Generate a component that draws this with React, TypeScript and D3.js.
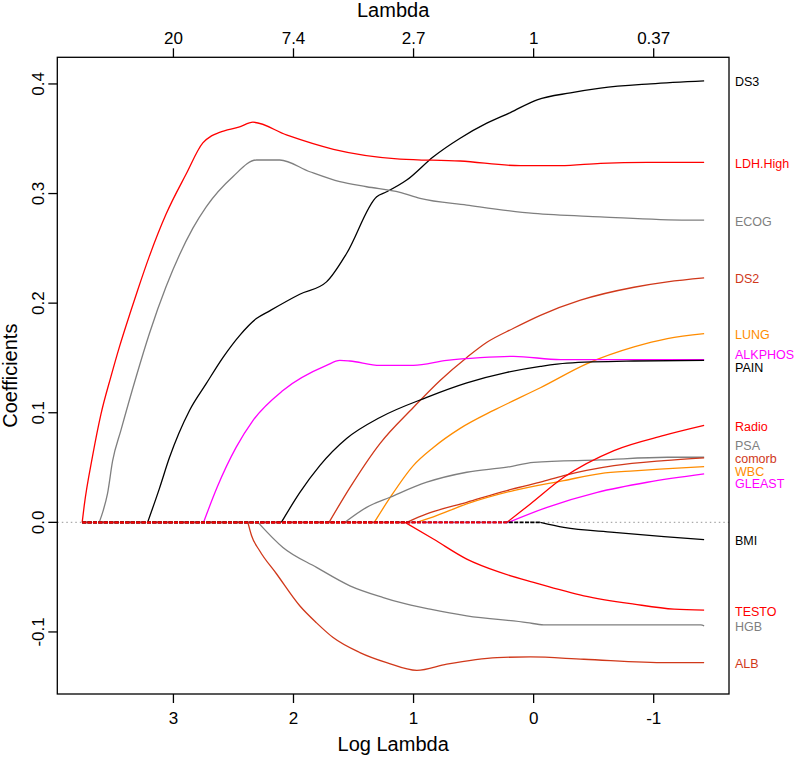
import React from "react";
import * as d3 from "d3";

// ---- data (log lambda, coefficient) ----
const logLambdaRange = [3.76, -1.42];

const DS3 = [[3.215,0],[3.117,0.0308],[3.033,0.0591],[2.866,0.1021],[2.727,0.1265],[2.588,0.1503],[2.449,0.1704],[2.309,0.1859],[2.198,0.1930],[1.948,0.2081],[1.725,0.2194],[1.558,0.2453],[1.307,0.2971],[1.224,0.3016],[1.057,0.3123],[0.835,0.3336],[0.612,0.3505],[0.39,0.3642],[0.194,0.3739],[-0.029,0.3855],[-0.307,0.3919],[-0.557,0.3962],[-0.975,0.4001],[-1.42,0.4028]];
const LDH_High = [[3.76,0],[3.743,0.0153],[3.674,0.0601],[3.604,0.0985],[3.52,0.1332],[3.451,0.1597],[3.353,0.1935],[3.298,0.2118],[3.2,0.2429],[3.061,0.2813],[2.894,0.3178],[2.755,0.3462],[2.683,0.3526],[2.616,0.3558],[2.449,0.3608],[2.338,0.3651],[2.059,0.3535],[1.667,0.3404],[1.113,0.3315],[0.612,0.3297],[0.111,0.3254],[-0.223,0.3254],[-0.557,0.3276],[-0.947,0.3285],[-1.42,0.3285]];
const ECOG = [[3.618,0],[3.585,0.0107],[3.549,0.0262],[3.507,0.0558],[3.437,0.0841],[3.311,0.1326],[3.2,0.1723],[3.061,0.2151],[2.839,0.2682],[2.727,0.2879],[2.505,0.3154],[2.309,0.3306],[2.115,0.3306],[1.864,0.3199],[1.614,0.3108],[1.391,0.3062],[1.113,0.3011],[0.946,0.2956],[0.557,0.2895],[0.0,0.2819],[-0.557,0.2788],[-1.281,0.2758],[-1.42,0.2758]];
const DS2 = [[1.704,0],[1.53,0.0317],[1.28,0.0719],[1.002,0.1048],[0.779,0.1295],[0.556,0.1505],[0.389,0.1643],[0.167,0.1771],[-0.056,0.1889],[-0.39,0.2027],[-0.836,0.2145],[-1.114,0.2194],[-1.42,0.223]];
const LUNG = [[1.327,0],[1.196,0.0225],[1.002,0.0518],[0.835,0.0683],[0.612,0.0857],[0.334,0.1021],[0.111,0.1140],[-0.056,0.1228],[-0.446,0.1448],[-0.836,0.16],[-1.114,0.1676],[-1.42,0.1722]];
const ALKPHOS = [[2.749,0],[2.636,0.032],[2.477,0.0686],[2.338,0.0929],[2.088,0.1203],[1.725,0.1432],[1.614,0.1478],[1.53,0.1472],[1.28,0.1432],[1.002,0.1432],[0.723,0.1478],[0.445,0.1503],[0.167,0.1515],[-0.223,0.1484],[-1.42,0.1484]];
const PAIN = [[2.101,0],[1.948,0.0271],[1.781,0.0518],[1.558,0.0765],[1.28,0.0957],[0.89,0.114],[0.556,0.1272],[0.222,0.1368],[-0.056,0.1423],[-0.279,0.1453],[-0.836,0.1472],[-1.42,0.1478]];
const Radio = [[0.222,0],[0.027,0.0168],[-0.251,0.0411],[-0.669,0.0655],[-1.086,0.0793],[-1.42,0.0884]];
const PSA = [[1.572,0],[1.391,0.0137],[1.196,0.0229],[0.89,0.0366],[0.557,0.0457],[0.222,0.0503],[0.0,0.0548],[-0.557,0.057],[-1.114,0.0594],[-1.42,0.0594]];
const comorb = [[1.057,0],[0.89,0.0077],[0.557,0.0183],[0.222,0.029],[-0.056,0.0366],[-0.251,0.0427],[-0.669,0.0518],[-1.086,0.0564],[-1.42,0.0589]];
const WBC = [[0.974,0],[0.835,0.005],[0.557,0.0168],[0.167,0.029],[-0.251,0.0381],[-0.557,0.0445],[-0.836,0.047],[-1.086,0.0488],[-1.42,0.0509]];
const GLEAST = [[0.209,0],[-0.112,0.0137],[-0.53,0.0274],[-0.947,0.0366],[-1.42,0.0442]];
const BMI = [[-0.056,0],[-0.251,-0.0046],[-0.669,-0.0091],[-1.086,-0.0131],[-1.42,-0.0158]];
const TESTO = [[1.071,0],[0.835,-0.0152],[0.557,-0.0335],[0.278,-0.0457],[0.0,-0.0548],[-0.418,-0.067],[-0.836,-0.0746],[-1.17,-0.0792],[-1.42,-0.0801]];
const HGB = [[2.296,0],[2.088,-0.0229],[1.808,-0.0411],[1.53,-0.0579],[1.252,-0.0686],[1.113,-0.0731],[0.862,-0.0792],[0.557,-0.0853],[0.055,-0.0914],[-0.084,-0.0935],[-1.393,-0.0935],[-1.42,-0.0944]];
const ALB = [[2.38,0],[2.349,-0.0122],[2.282,-0.0259],[2.142,-0.0469],[1.948,-0.0761],[1.808,-0.0917],[1.67,-0.1051],[1.447,-0.1188],[1.224,-0.128],[0.973,-0.1351],[0.723,-0.1294],[0.305,-0.1234],[0.027,-0.1228],[-0.418,-0.1249],[-1.114,-0.128],[-1.42,-0.128]];

const seriesNames = ["DS3","LDH.High","ECOG","DS2","LUNG","ALKPHOS","PAIN","PSA","comorb","WBC","GLEAST","TESTO","HGB","ALB","BMI","Radio"];
const seriesData = [DS3, LDH_High, ECOG, DS2, LUNG, ALKPHOS, PAIN, PSA, comorb, WBC, GLEAST, TESTO, HGB, ALB, BMI, Radio];
const RED = "#FF0000", BRICK = "#D0381A", ORANGE = "#FF8C00", MAGENTA = "#FF00FF", GRAY = "#7F7F7F", BLACK = "#000000";
const seriesColors = [BLACK, RED, GRAY, BRICK, ORANGE, MAGENTA, BLACK, GRAY, BRICK, ORANGE, MAGENTA, RED, GRAY, BRICK, BLACK, RED];

const xTicks = [3, 2, 1, 0, -1];
const xTickLabels = ["3", "2", "1", "0", "-1"];
const lambdaTickLabels = ["20", "7.4", "2.7", "1", "0.37"];
const yTicks = [-0.1, 0, 0.1, 0.2, 0.3, 0.4];
const yTickLabels = ["-0.1", "0.0", "0.1", "0.2", "0.3", "0.4"];

const FONT = "'Liberation Sans', Arial, Helvetica, sans-serif";

export default function App() {
  const W = 800, H = 758;
  const left = 57.3, right = 729, top = 57.3, bottom = 694;

  // R-style 4% extension of the data range
  const [l0, l1] = logLambdaRange;
  const xr = l0 - l1;
  const x = d3.scaleLinear().domain([l0 + 0.04 * xr, l1 - 0.04 * xr]).range([left, right]);
  const allC = seriesData.flat().map((d) => d[1]);
  const cMin = d3.min(allC) as number, cMax = d3.max(allC) as number;
  const yr = cMax - cMin;
  const y = d3.scaleLinear().domain([cMin - 0.04 * yr, cMax + 0.04 * yr]).range([bottom, top]);

  const smooth = d3.line<number[]>().x((d) => x(d[0])).y((d) => y(d[1])).curve(d3.curveMonotoneX);
  const straight = d3.line<number[]>().x((d) => x(d[0])).y((d) => y(d[1]));

  // labels with de-overlap
  const gap = 12.6;
  const items = seriesData.map((s, i) => ({ name: seriesNames[i], color: seriesColors[i], target: y(s[s.length - 1][1]) }))
    .sort((a, b) => a.target - b.target);
  let clusters = items.map((it) => ({ items: [it], center: it.target }));
  let changed = true;
  while (changed) {
    changed = false;
    for (let i = 0; i < clusters.length - 1; i++) {
      const a = clusters[i], b = clusters[i + 1];
      const aBot = a.center + ((a.items.length - 1) * gap) / 2;
      const bTop = b.center - ((b.items.length - 1) * gap) / 2;
      if (bTop - aBot < gap) {
        const its = a.items.concat(b.items);
        clusters.splice(i, 2, { items: its, center: d3.mean(its, (d) => d.target) as number });
        changed = true;
        break;
      }
    }
  }
  const labels: { name: string; color: string; ly: number }[] = [];
  clusters.forEach((c) => c.items.forEach((it, k) => labels.push({ name: it.name, color: it.color, ly: c.center + (k - (c.items.length - 1) / 2) * gap + 1.5 })));

  const tickLen = 9;

  return (
    <svg width={W} height={H} style={{ position: "absolute", left: 0, top: 0, background: "#fff" }} fontFamily={FONT}>
      <rect x={0} y={0} width={W} height={H} fill="#fff" />
      {/* zero reference line */}
      <line x1={left} x2={right} y1={y(0)} y2={y(0)} stroke="#aaa" strokeWidth={1.2} strokeDasharray="1.5,3" />
      {/* series (non-zero parts) */}
      {seriesData.map((s, i) => (
        <path key={"s" + i} d={smooth(s) || ""} fill="none" stroke={seriesColors[i]} strokeWidth={1.3} strokeLinejoin="round" />
      ))}
      {/* zero parts before each variable enters */}
      {seriesData.map((s, i) => (
        <path key={"z" + i} d={straight([[l0, 0], s[0]]) || ""} fill="none" stroke={seriesColors[i]} strokeWidth={1.8} strokeDasharray="4,1.4" />
      ))}
      {/* box */}
      <rect x={left} y={top} width={right - left} height={bottom - top} fill="none" stroke="#000" strokeWidth={1.3} />
      {/* bottom axis */}
      {xTicks.map((t, i) => (
        <g key={"bx" + i}>
          <line x1={x(t)} x2={x(t)} y1={bottom} y2={bottom + tickLen} stroke="#000" strokeWidth={1.3} />
          <text x={x(t)} y={724} fontSize={17} textAnchor="middle">{xTickLabels[i]}</text>
        </g>
      ))}
      {/* top axis */}
      {xTicks.map((t, i) => (
        <g key={"tx" + i}>
          <line x1={x(t)} x2={x(t)} y1={top} y2={top - tickLen} stroke="#000" strokeWidth={1.3} />
          <text x={x(t)} y={44} fontSize={17} textAnchor="middle">{lambdaTickLabels[i]}</text>
        </g>
      ))}
      {/* y axis */}
      {yTicks.map((t, i) => (
        <g key={"y" + i}>
          <line x1={left} x2={left - tickLen} y1={y(t)} y2={y(t)} stroke="#000" strokeWidth={1.3} />
          <text transform={`translate(44,${y(t)}) rotate(-90)`} fontSize={17} textAnchor="middle">{yTickLabels[i]}</text>
        </g>
      ))}
      {/* titles */}
      <text x={(left + right) / 2} y={17} fontSize={20} textAnchor="middle">Lambda</text>
      <text x={(left + right) / 2} y={751} fontSize={20} textAnchor="middle">Log Lambda</text>
      <text transform={`translate(17,${(top + bottom) / 2}) rotate(-90)`} fontSize={20} textAnchor="middle">Coefficients</text>
      {/* right labels */}
      {labels.map((l, i) => (
        <text key={"l" + i} x={735} y={l.ly} fontSize={12.5} fill={l.color} dominantBaseline="central">{l.name}</text>
      ))}
    </svg>
  );
}
